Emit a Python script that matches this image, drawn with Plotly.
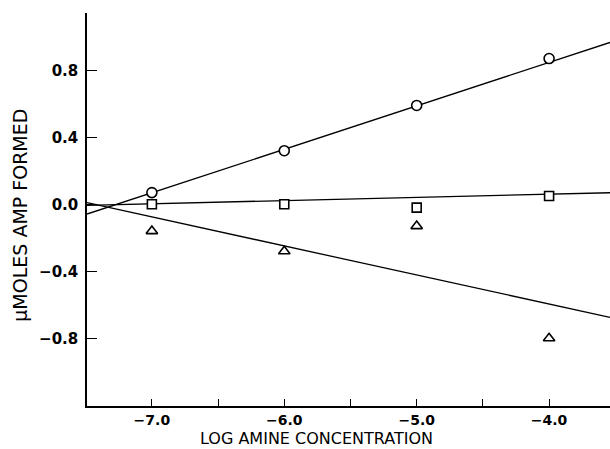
import plotly.graph_objects as go

# Data
log_conc = [-7.0, -6.0, -5.0, -4.0]
circle_vals = [0.07, 0.32, 0.59, 0.87]
square_vals = [0.0, 0.0, -0.02, 0.05]
triangle_vals = [-0.16, -0.28, -0.13, -0.80]

fit_x = [-7.49, -3.54]
circle_fit = [-0.058, 0.966]
square_fit = [-0.006, 0.069]
triangle_fit = [0.010, -0.675]

x_major = [-7.0, -6.0, -5.0, -4.0]
x_major_text = ["\u22127.0", "\u22126.0", "\u22125.0", "\u22124.0"]
x_minor = [-6.5, -5.5, -4.5]
y_ticks = [0.8, 0.4, 0.0, -0.4, -0.8]
y_tick_text = ["0.8", "0.4", "0.0", "\u22120.4", "\u22120.8"]

FONT = "DejaVu Sans, sans-serif"

fig = go.Figure()
for fy in (circle_fit, square_fit, triangle_fit):
    fig.add_trace(go.Scatter(x=fit_x, y=fy, mode="lines",
                             line=dict(color="black", width=1.3),
                             showlegend=False, hoverinfo="skip"))

for vals, sym, sz in ((circle_vals, "circle", 10),
                      (square_vals, "square", 9),
                      (triangle_vals, "triangle-up", 10)):
    fig.add_trace(go.Scatter(x=log_conc, y=vals, mode="markers",
                             marker=dict(symbol=sym, size=sz, color="white",
                                         line=dict(color="black", width=1.6)),
                             showlegend=False))

fig.update_layout(
    width=610, height=449,
    margin=dict(l=87, r=0, t=13, b=43, autoexpand=False),
    paper_bgcolor="white", plot_bgcolor="white",
    font=dict(family=FONT, color="black", size=15),
    xaxis=dict(range=[-7.49, -3.54], showgrid=False, zeroline=False,
               showline=True, linecolor="black", linewidth=1.5,
               automargin=False,
               tickmode="array", tickvals=x_major, ticktext=x_major_text,
               ticks="inside", ticklen=7, tickwidth=1.3, tickcolor="black",
               tickfont=dict(family=FONT, size=14, weight="bold"),
               minor=dict(tickmode="array", tickvals=x_minor, ticks="inside",
                          ticklen=7, tickwidth=1.3, tickcolor="black")),
    yaxis=dict(range=[-1.204, 1.142], showgrid=False, zeroline=False,
               showline=True, linecolor="black", linewidth=1.5,
               automargin=False,
               tickmode="array", tickvals=y_ticks, ticktext=y_tick_text,
               ticks="inside", ticklen=10, tickwidth=1.3, tickcolor="black",
               ticklabelstandoff=4,
               tickfont=dict(family=FONT, size=15, weight="bold")),
    annotations=[
        dict(text="LOG AMINE CONCENTRATION", xref="paper", yref="paper",
             x=0.438, y=-43 / 393, xanchor="center", yanchor="bottom",
             borderpad=0,
             showarrow=False, font=dict(family=FONT, size=16)),
        dict(text="\u03bcMOLES AMP FORMED", xref="paper", yref="paper",
             x=-0.128, y=0.4843, xanchor="center", yanchor="middle",
             textangle=-90, showarrow=False, font=dict(family=FONT, size=19)),
    ],
)

fig.write_html(
    "out.html",
    config={"displayModeBar": False},
    post_script="document.body.style.margin='0';document.body.style.overflow='hidden';",
)
